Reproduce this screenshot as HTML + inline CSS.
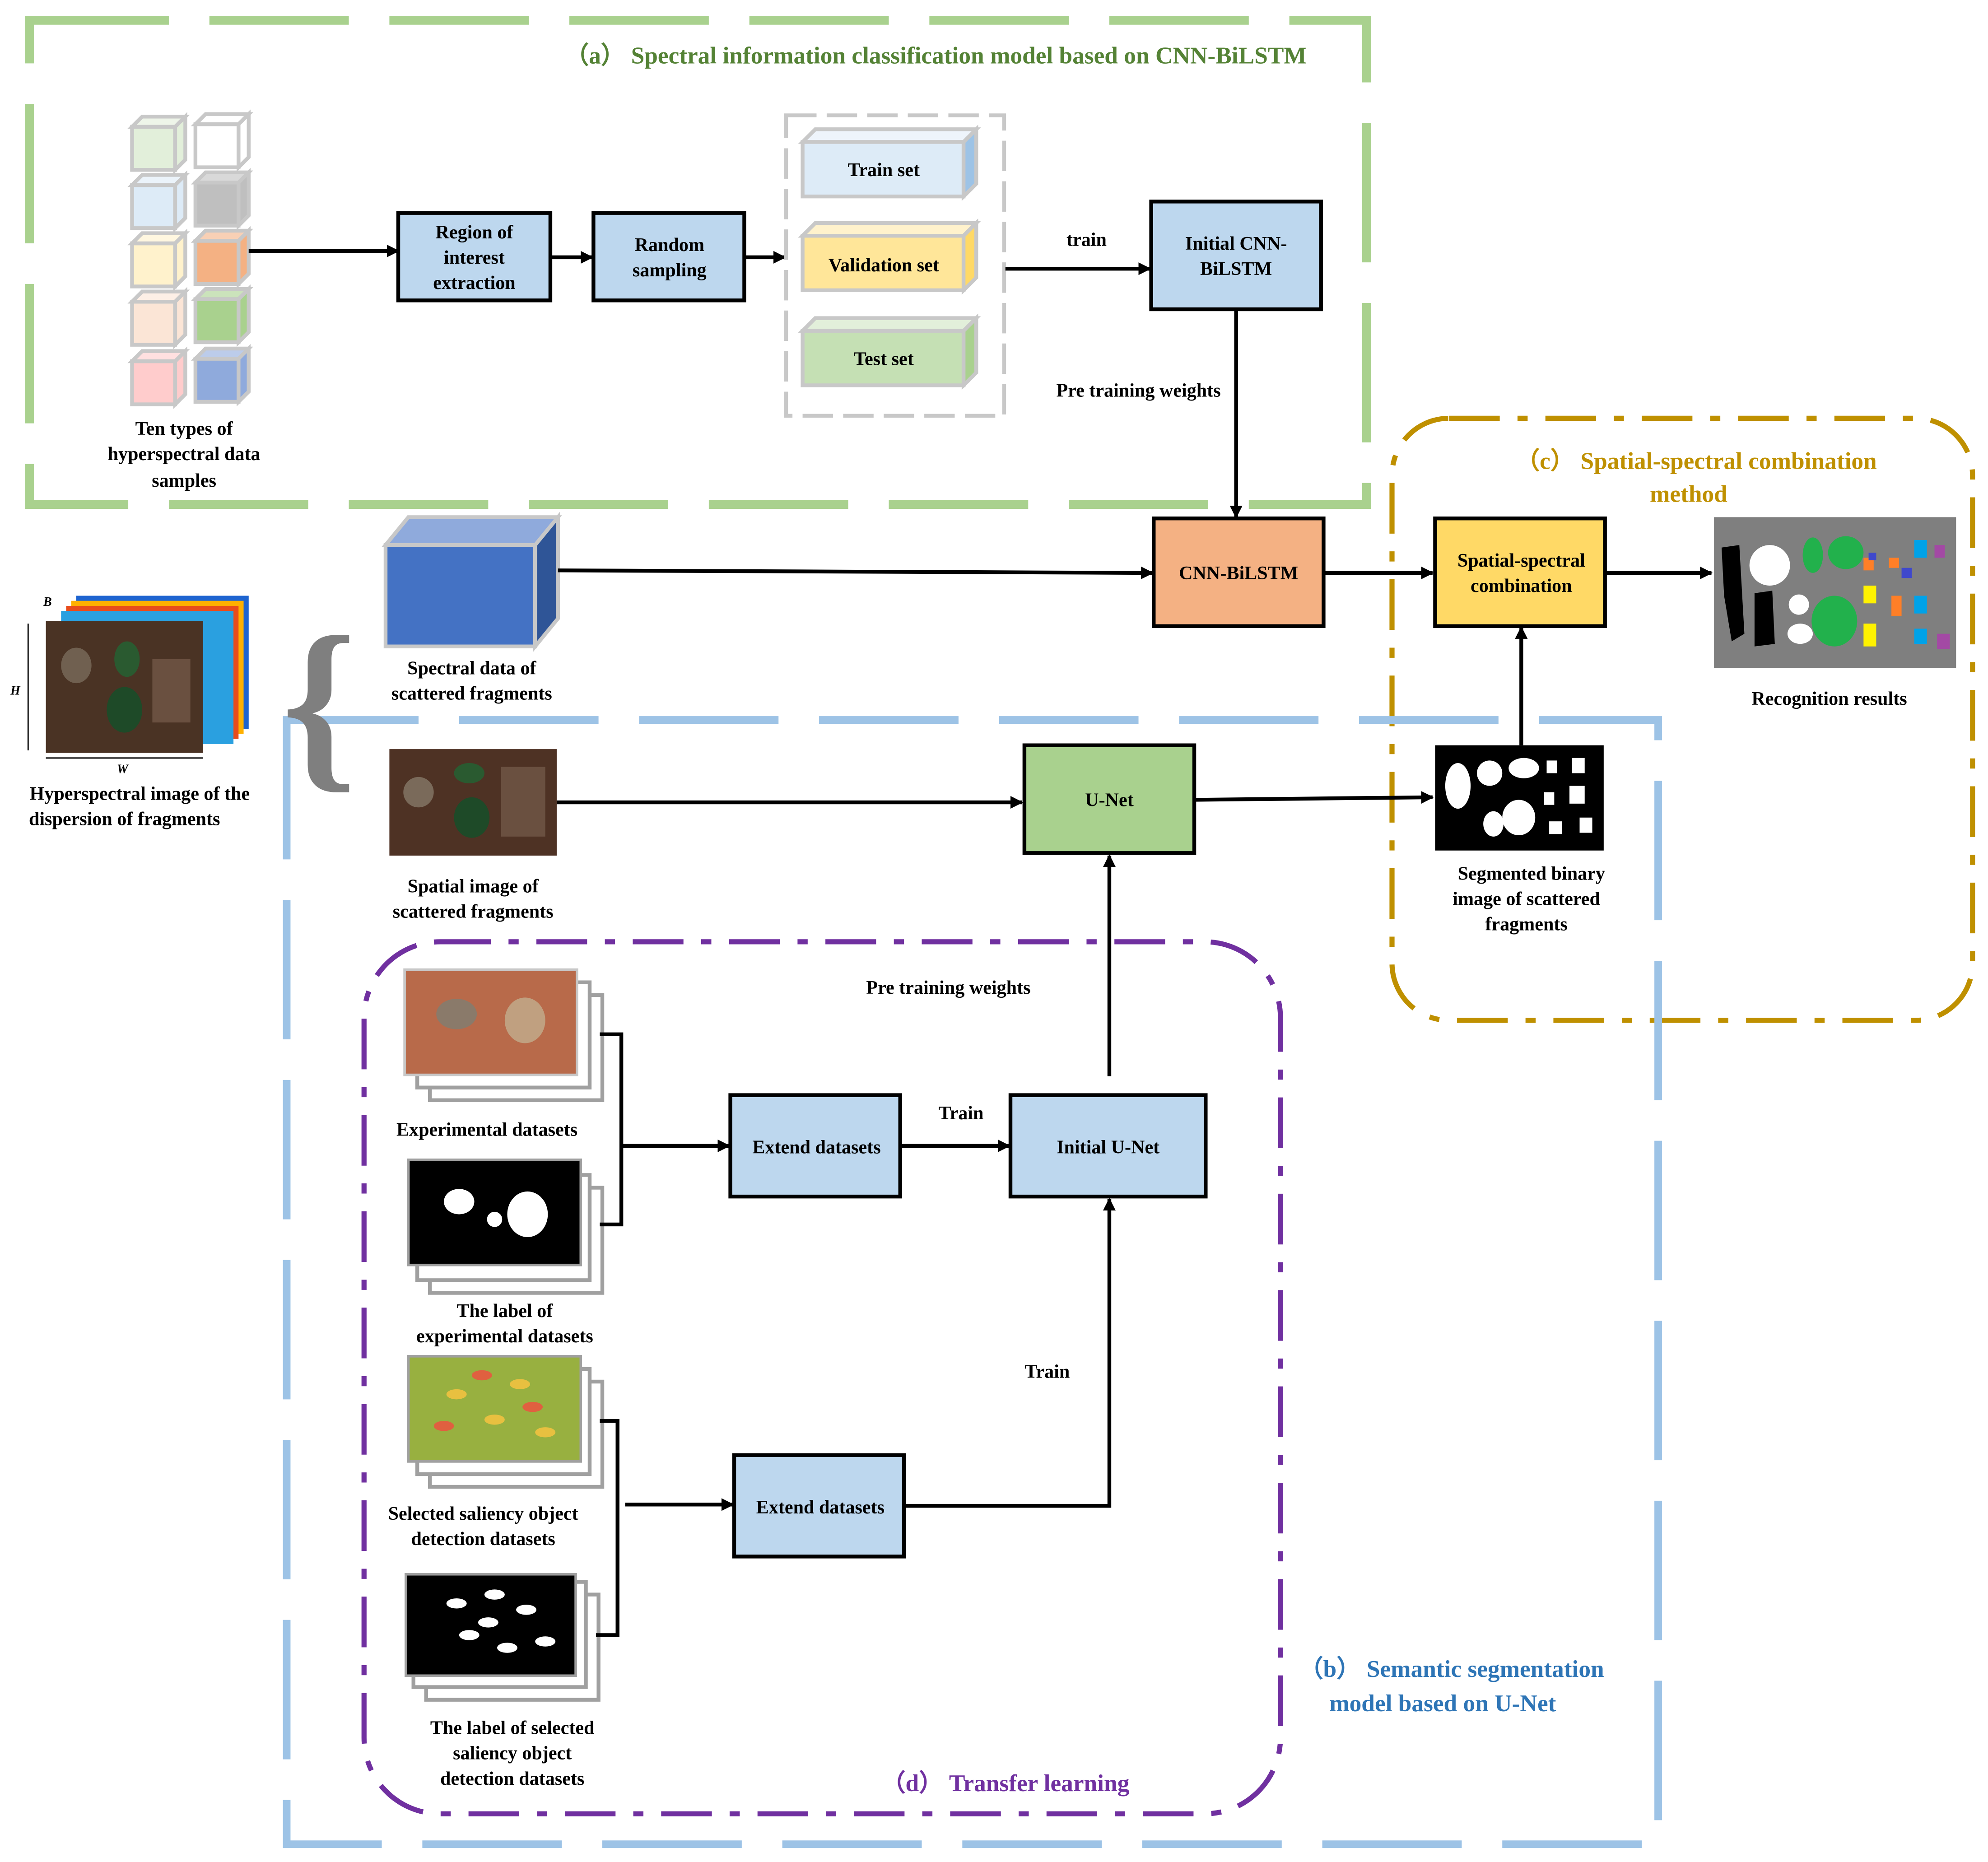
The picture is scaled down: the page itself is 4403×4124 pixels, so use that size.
<!DOCTYPE html>
<html><head><meta charset="utf-8"><style>html,body{margin:0;padding:0;background:#fff}svg{display:block}text{font-family:"Liberation Serif",serif;font-weight:bold}</style></head><body>
<svg width="4403" height="4124" viewBox="0 0 1568 1469" xmlns="http://www.w3.org/2000/svg">
<defs>
<marker id="ar" markerWidth="10" markerHeight="10" refX="9" refY="5" orient="auto" markerUnits="userSpaceOnUse"><path d="M0,0 L10,5 L0,10 z" fill="#000"/></marker>
<g id="cube"><rect x="0" y="8" width="34" height="34" stroke="#c8c8c8" stroke-width="3"/><path d="M0,8 L8,0 L42,0 L34,8 z" stroke="#c8c8c8" stroke-width="3" fill-opacity="0.6"/><path d="M34,8 L42,0 L42,34 L34,42 z" stroke="#c8c8c8" stroke-width="3"/></g>
</defs>
<!-- (a) green dashed -->
<rect x="23" y="16" width="1055" height="382" fill="none" stroke="#a9d18e" stroke-width="7" stroke-dasharray="110,32"/>
<text x="738" y="50" font-size="19" fill="#548235" text-anchor="middle">（a） Spectral information classification model based on CNN-BiLSTM</text>
<!-- cubes -->
<g fill="#e2efda"><use href="#cube" x="104" y="92"/></g>
<g fill="#ffffff"><use href="#cube" x="154" y="90"/></g>
<g fill="#ddebf7"><use href="#cube" x="104" y="138"/></g>
<g fill="#bfbfbf"><use href="#cube" x="154" y="136"/></g>
<g fill="#fff2cc"><use href="#cube" x="104" y="184"/></g>
<g fill="#f4b183"><use href="#cube" x="154" y="182"/></g>
<g fill="#fbe5d6"><use href="#cube" x="104" y="230"/></g>
<g fill="#a9d18e"><use href="#cube" x="154" y="228"/></g>
<g fill="#ffcccc"><use href="#cube" x="104" y="277"/></g>
<g fill="#8faadc"><use href="#cube" x="154" y="275"/></g>
<g font-size="15" text-anchor="middle"><text x="145" y="343">Ten types of</text><text x="145" y="363">hyperspectral data</text><text x="145" y="384">samples</text></g>
<line x1="196" y1="198" x2="314" y2="198" stroke="#000" stroke-width="3" marker-end="url(#ar)"/>
<rect x="314" y="168" width="120" height="69" fill="#bdd7ee" stroke="#000" stroke-width="3"/>
<g font-size="15" text-anchor="middle"><text x="374" y="188">Region of</text><text x="374" y="208">interest</text><text x="374" y="228">extraction</text></g>
<line x1="434" y1="203" x2="467" y2="203" stroke="#000" stroke-width="3" marker-end="url(#ar)"/>
<rect x="468" y="168" width="119" height="69" fill="#bdd7ee" stroke="#000" stroke-width="3"/>
<g font-size="15" text-anchor="middle"><text x="528" y="198">Random</text><text x="528" y="218">sampling</text></g>
<line x1="587" y1="203" x2="619" y2="203" stroke="#000" stroke-width="3" marker-end="url(#ar)"/>
<rect x="620" y="91" width="172" height="237" fill="none" stroke="#c8c8c8" stroke-width="3" stroke-dasharray="24,8"/>
<g stroke="#c8c8c8" stroke-width="3">
<path d="M633,112 L643,102 L770,102 L760,112z" fill="#eef4fb"/><rect x="633" y="112" width="127" height="43" fill="#ddebf7"/><path d="M760,112 L770,102 L770,145 L760,155z" fill="#9dc3e6"/>
<path d="M633,186 L643,176 L770,176 L760,186z" fill="#fff2cc"/><rect x="633" y="186" width="127" height="43" fill="#ffe699"/><path d="M760,186 L770,176 L770,219 L760,229z" fill="#ffd966"/>
<path d="M633,261 L643,251 L770,251 L760,261z" fill="#e2efda"/><rect x="633" y="261" width="127" height="43" fill="#c5e0b4"/><path d="M760,261 L770,251 L770,294 L760,304z" fill="#a9d18e"/>
</g>
<g font-size="15" text-anchor="middle"><text x="697" y="139">Train set</text><text x="697" y="214">Validation set</text><text x="697" y="288">Test set</text></g>
<line x1="793" y1="212" x2="907" y2="212" stroke="#000" stroke-width="3" marker-end="url(#ar)"/>
<text x="857" y="194" font-size="15" text-anchor="middle">train</text>
<rect x="908" y="159" width="134" height="85" fill="#bdd7ee" stroke="#000" stroke-width="3"/>
<g font-size="15" text-anchor="middle"><text x="975" y="197">Initial CNN-</text><text x="975" y="217">BiLSTM</text></g>
<line x1="975" y1="244" x2="975" y2="408" stroke="#000" stroke-width="3" marker-end="url(#ar)"/>
<text x="898" y="313" font-size="15" text-anchor="middle">Pre training weights</text>
<!-- spectral cube -->
<path d="M304,430 L322,408 L440,408 L422,430z" fill="#8faadc" stroke="#c8c8c8" stroke-width="3"/>
<rect x="304" y="430" width="118" height="80" fill="#4472c4" stroke="#c8c8c8" stroke-width="3"/>
<path d="M422,430 L440,408 L440,488 L422,510z" fill="#2f5597" stroke="#c8c8c8" stroke-width="3"/>
<g font-size="15" text-anchor="middle"><text x="372" y="532">Spectral data of</text><text x="372" y="552">scattered fragments</text></g>
<line x1="440" y1="450" x2="909" y2="452" stroke="#000" stroke-width="3" marker-end="url(#ar)"/>
<rect x="910" y="409" width="134" height="85" fill="#f4b183" stroke="#000" stroke-width="3"/>
<text x="977" y="457" font-size="15" text-anchor="middle">CNN-BiLSTM</text>
<line x1="1044" y1="452" x2="1130" y2="452" stroke="#000" stroke-width="3" marker-end="url(#ar)"/>
<!-- (c) -->
<rect x="1098" y="330" width="458" height="475" rx="45" fill="none" stroke="#bf9000" stroke-width="4" stroke-dasharray="40,14,8,14"/>
<g font-size="19" fill="#bf9000" text-anchor="middle"><text x="1338" y="370">（c） Spatial-spectral combination</text><text x="1332" y="396">method</text></g>
<rect x="1132" y="409" width="134" height="85" fill="#ffd966" stroke="#000" stroke-width="3"/>
<g font-size="15" text-anchor="middle"><text x="1200" y="447">Spatial-spectral</text><text x="1200" y="467">combination</text></g>
<line x1="1266" y1="452" x2="1350" y2="452" stroke="#000" stroke-width="3" marker-end="url(#ar)"/>
<rect x="1352" y="408" width="191" height="119" fill="#7f7f7f"/>
<g><path d="M1358,432 L1372,430 L1376,500 L1366,506 L1360,470z" fill="#000"/><path d="M1384,468 L1398,466 L1400,508 L1384,510z" fill="#000"/><ellipse cx="1396" cy="446" rx="16" ry="16" fill="#fff"/><ellipse cx="1419" cy="477" rx="8" ry="8" fill="#fff"/><ellipse cx="1420" cy="500" rx="10" ry="8" fill="#fff"/><ellipse cx="1430" cy="438" rx="8" ry="14" fill="#22b14c"/><ellipse cx="1456" cy="436" rx="14" ry="13" fill="#22b14c"/><ellipse cx="1447" cy="490" rx="18" ry="20" fill="#22b14c"/><rect x="1470" y="440" width="8" height="10" fill="#ff7f27"/><rect x="1470" y="462" width="10" height="14" fill="#fff200"/><rect x="1470" y="492" width="10" height="18" fill="#fff200"/><rect x="1490" y="440" width="8" height="8" fill="#ff7f27"/><rect x="1492" y="470" width="8" height="16" fill="#ff7f27"/><rect x="1510" y="426" width="10" height="14" fill="#00a2e8"/><rect x="1510" y="470" width="10" height="14" fill="#00a2e8"/><rect x="1510" y="496" width="10" height="12" fill="#00a2e8"/><rect x="1526" y="430" width="8" height="10" fill="#a349a4"/><rect x="1528" y="500" width="10" height="12" fill="#a349a4"/><rect x="1500" y="448" width="8" height="8" fill="#3f48cc"/><rect x="1474" y="436" width="6" height="6" fill="#3f48cc"/></g>
<text x="1443" y="556" font-size="15" text-anchor="middle">Recognition results</text>
<!-- (b) -->
<path d="M226,568 L226,1455 L1308,1455 L1308,568 Z" fill="none" stroke="#9dc3e6" stroke-width="6" stroke-dasharray="110,32"/>
<g font-size="19" fill="#2e75b6" text-anchor="middle"><text x="1145" y="1323">（b） Semantic segmentation</text><text x="1138" y="1350">model based on U-Net</text></g>
<!-- hyperspectral image -->
<g><rect x="60" y="470" width="136" height="105" fill="#1e64d0"/><rect x="56" y="474" width="136" height="105" fill="#ffb000"/><rect x="52" y="478" width="136" height="105" fill="#e84c1c"/><rect x="48" y="482" width="136" height="105" fill="#2aa0e0"/><rect x="36" y="490" width="124" height="104" fill="#4a3324"/><ellipse cx="60" cy="525" rx="12" ry="14" fill="#706050"/><ellipse cx="100" cy="520" rx="10" ry="14" fill="#2a5a30"/><ellipse cx="98" cy="560" rx="14" ry="18" fill="#1e4a28"/><rect x="120" y="520" width="30" height="50" fill="#6a5040"/></g>
<g font-size="10" font-style="italic"><text x="34" y="478">B</text><text x="8" y="548">H</text><text x="92" y="610">W</text></g>
<line x1="22" y1="492" x2="22" y2="592" stroke="#000"/><line x1="36" y1="598" x2="160" y2="598" stroke="#000"/>
<g font-size="15" text-anchor="middle"><text x="110" y="631">Hyperspectral image of the</text><text x="98" y="651">dispersion of fragments</text></g>
<text x="222" y="605" font-size="150" fill="#7f7f7f" font-weight="normal">{</text>
<rect x="307" y="591" width="132" height="84" fill="#4e3224"/><ellipse cx="330" cy="625" rx="12" ry="12" fill="#7a6a5a"/><ellipse cx="370" cy="610" rx="12" ry="8" fill="#2a5a30"/><ellipse cx="372" cy="645" rx="14" ry="16" fill="#1e4a28"/><rect x="395" y="605" width="35" height="55" fill="#6a5040"/>
<g font-size="15" text-anchor="middle"><text x="373" y="704">Spatial image of</text><text x="373" y="724">scattered fragments</text></g>
<line x1="439" y1="633" x2="806" y2="633" stroke="#000" stroke-width="3" marker-end="url(#ar)"/>
<rect x="808" y="588" width="134" height="85" fill="#a9d18e" stroke="#000" stroke-width="3"/>
<text x="875" y="636" font-size="15" text-anchor="middle">U-Net</text>
<line x1="942" y1="631" x2="1130" y2="629" stroke="#000" stroke-width="3" marker-end="url(#ar)"/>
<rect x="1132" y="588" width="133" height="83" fill="#000"/>
<g fill="#fff"><ellipse cx="1150" cy="620" rx="10" ry="18"/><ellipse cx="1175" cy="610" rx="10" ry="10"/><ellipse cx="1198" cy="645" rx="13" ry="14"/><ellipse cx="1202" cy="606" rx="12" ry="8"/><ellipse cx="1178" cy="650" rx="8" ry="10"/><rect x="1220" y="600" width="8" height="10"/><rect x="1240" y="598" width="10" height="12"/><rect x="1218" y="625" width="8" height="10"/><rect x="1238" y="620" width="12" height="14"/><rect x="1222" y="648" width="10" height="10"/><rect x="1246" y="645" width="10" height="12"/></g>
<g font-size="15" text-anchor="middle"><text x="1208" y="694">Segmented binary</text><text x="1204" y="714">image of scattered</text><text x="1204" y="734">fragments</text></g>
<line x1="1200" y1="588" x2="1200" y2="495" stroke="#000" stroke-width="3" marker-end="url(#ar)"/>
<!-- (d) -->
<rect x="287" y="743" width="723" height="688" rx="60" fill="none" stroke="#7030a0" stroke-width="4" stroke-dasharray="40,14,8,14"/>
<text x="793" y="1413" font-size="19" fill="#7030a0" text-anchor="middle">（d） Transfer learning</text>
<text x="748" y="784" font-size="15" text-anchor="middle">Pre training weights</text>
<!-- image stacks -->
<g stroke="#a0a0a0" stroke-width="3" fill="#fff">
<rect x="339" y="785" width="136" height="83"/><rect x="329" y="775" width="136" height="83"/>
<rect x="339" y="937" width="136" height="83"/><rect x="329" y="927" width="136" height="83"/>
<rect x="339" y="1090" width="136" height="83"/><rect x="329" y="1080" width="136" height="83"/>
<rect x="336" y="1258" width="136" height="83"/><rect x="326" y="1248" width="136" height="83"/>
</g>
<rect x="319" y="765" width="136" height="83" fill="#b86a4a" stroke="#c8c8c8" stroke-width="2"/><ellipse cx="360" cy="800" rx="16" ry="12" fill="#8a7a6a"/><ellipse cx="414" cy="805" rx="16" ry="18" fill="#c0a080"/>
<rect x="322" y="915" width="136" height="83" fill="#000" stroke="#a0a0a0" stroke-width="2"/><ellipse cx="362" cy="948" rx="12" ry="10" fill="#fff"/><ellipse cx="416" cy="958" rx="16" ry="18" fill="#fff"/><ellipse cx="390" cy="962" rx="6" ry="6" fill="#fff"/>
<rect x="322" y="1070" width="136" height="83" fill="#98b040" stroke="#a0a0a0" stroke-width="2"/><g fill="#e8c040"><ellipse cx="360" cy="1100" rx="8" ry="4"/><ellipse cx="410" cy="1092" rx="8" ry="4"/><ellipse cx="390" cy="1120" rx="8" ry="4"/><ellipse cx="430" cy="1130" rx="8" ry="4"/></g><g fill="#e06040"><ellipse cx="380" cy="1085" rx="8" ry="4"/><ellipse cx="420" cy="1110" rx="8" ry="4"/><ellipse cx="350" cy="1125" rx="8" ry="4"/></g>
<rect x="320" y="1242" width="134" height="80" fill="#000" stroke="#a0a0a0" stroke-width="2"/><g fill="#fff"><ellipse cx="360" cy="1265" rx="8" ry="4"/><ellipse cx="390" cy="1258" rx="8" ry="4"/><ellipse cx="415" cy="1270" rx="8" ry="4"/><ellipse cx="370" cy="1290" rx="8" ry="4"/><ellipse cx="400" cy="1300" rx="8" ry="4"/><ellipse cx="430" cy="1295" rx="8" ry="4"/><ellipse cx="385" cy="1280" rx="8" ry="4"/></g>
<g font-size="15" text-anchor="middle"><text x="384" y="896">Experimental datasets</text><text x="398" y="1039">The label of</text><text x="398" y="1059">experimental datasets</text><text x="381" y="1199">Selected saliency object</text><text x="381" y="1219">detection datasets</text><text x="404" y="1368">The label of selected</text><text x="404" y="1388">saliency object</text><text x="404" y="1408">detection datasets</text></g>
<path d="M473,816 L490,816 L490,966 L473,966" fill="none" stroke="#000" stroke-width="3"/>
<line x1="490" y1="904" x2="575" y2="904" stroke="#000" stroke-width="3" marker-end="url(#ar)"/>
<path d="M473,1121 L487,1121 L487,1290 L470,1290" fill="none" stroke="#000" stroke-width="3"/>
<line x1="493" y1="1187" x2="578" y2="1187" stroke="#000" stroke-width="3" marker-end="url(#ar)"/>
<rect x="576" y="864" width="134" height="80" fill="#bdd7ee" stroke="#000" stroke-width="3"/>
<text x="644" y="910" font-size="15" text-anchor="middle">Extend datasets</text>
<rect x="579" y="1148" width="134" height="80" fill="#bdd7ee" stroke="#000" stroke-width="3"/>
<text x="647" y="1194" font-size="15" text-anchor="middle">Extend datasets</text>
<line x1="710" y1="904" x2="796" y2="904" stroke="#000" stroke-width="3" marker-end="url(#ar)"/>
<text x="758" y="883" font-size="15" text-anchor="middle">Train</text>
<rect x="797" y="864" width="154" height="80" fill="#bdd7ee" stroke="#000" stroke-width="3"/>
<text x="874" y="910" font-size="15" text-anchor="middle">Initial U-Net</text>
<path d="M713,1188 L875,1188 L875,946" fill="none" stroke="#000" stroke-width="3" marker-end="url(#ar)"/>
<text x="826" y="1087" font-size="15" text-anchor="middle">Train</text>
<line x1="875" y1="849" x2="875" y2="675" stroke="#000" stroke-width="3" marker-end="url(#ar)"/>
</svg>
</body></html>
